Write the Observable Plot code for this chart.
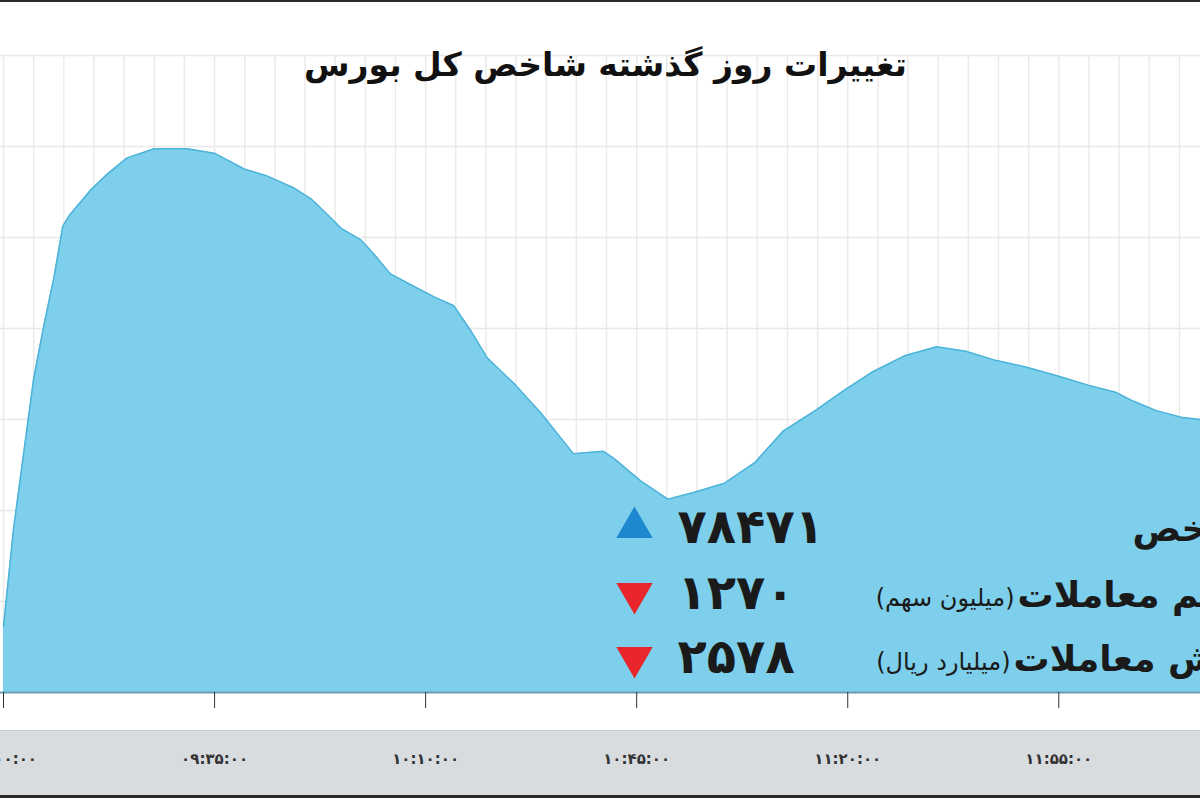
<!DOCTYPE html>
<html><head><meta charset="utf-8">
<script src="https://cdn.jsdelivr.net/npm/d3@7"></script>
<script src="https://cdn.jsdelivr.net/npm/@observablehq/plot@0.6"></script>
<style>
body{margin:0;background:#fff;}
#wrap{position:relative;width:1200px;height:800px;overflow:hidden;background:#fff;}
#topline{position:absolute;left:0;top:0;width:1200px;height:2px;background:#2a2a2a;}
#band{position:absolute;left:0;top:730px;width:1200px;height:65px;background:#d9dcdf;border-top:1px solid #c6c9cd;box-sizing:border-box;}
#bottomline{position:absolute;left:0;top:795px;width:1200px;height:3px;background:#2a2a2a;}
#chart{position:absolute;left:0;top:0;}
</style></head>
<body><div id="wrap"><div id="band"></div><div id="bottomline"></div><div id="chart"></div><div id="topline"></div></div>
<script>
// ---- data ----
const title = "تغییرات روز گذشته شاخص کل بورس";
const times = ["09:00:00","09:01:40","09:03:20","09:05:00","09:06:40","09:08:20","09:09:50","09:11:00","09:14:30","09:17:15",
  "09:20:30","09:25:00","09:30:30","09:32:40","09:35:00","09:37:10","09:40:00","09:43:45","09:48:00","09:51:00",
  "09:53:45","09:56:00","09:59:15","10:01:20","10:04:10","10:07:00","10:11:20","10:14:40","10:17:30","10:20:15",
  "10:24:35","10:29:05","10:34:30","10:39:30","10:41:10","10:45:40","10:50:10","10:54:35","10:59:35","11:04:35",
  "11:09:20","11:14:40","11:19:30","11:24:10","11:29:25","11:34:45","11:39:35","11:44:30","11:49:40","11:55:00",
  "12:00:00","12:04:25","12:07:25","12:11:05","12:15:15","12:18:30"];
const values = [78379,78422,78455,78488,78511,78532,78555,78560,78571,78578,
  78585,78589,78589,78588,78587,78584,78580,78577,78572,78567,
  78560,78554,78549,78543,78534,78530,78524,78520,78509,78497,
  78486,78473,78455,78456,78453,78443,78435,78438,78442,78451,
  78465,78474,78483,78491,78498,78502,78500,78496,78493,78489,
  78485,78482,78478,78474,78471,78470];
const xTickTimes = ["09:00:00","09:35:00","10:10:00","10:45:00","11:20:00","11:55:00"];
const xTickLabels = ["۰۹:۰۰:۰۰","۰۹:۳۵:۰۰","۱۰:۱۰:۰۰","۱۰:۴۵:۰۰","۱۱:۲۰:۰۰","۱۱:۵۵:۰۰"];
const statNames = ["شاخص","حجم معاملات","ارزش معاملات"];
const statUnits = ["","(میلیون سهم)","(میلیارد ریال)"];
const statValues = [78471, 1270, 2578];
const statDirections = ["up","down","down"];

// ---- helpers / layout ----
const parse = s => new Date(`2020-01-01T${s}Z`);
const faDigits = n => String(n).replace(/\d/g, d => "۰۱۲۳۴۵۶۷۸۹"[d]);
const data = times.map((t, i) => ({time: parse(t), value: values[i]}));
const tickDates = xTickTimes.map(parse);
const yMin = 78350, yMax = 78630;
const mTop = 55;
const rowY = [527, 593, 657];
const labelX = [1132, 1017, 1013];
const unitX = [0, 1014, 1010];
const font = "DejaVu Sans";

const stats = statNames.map((name, i) => ({name, unit: statUnits[i], value: statValues[i], dir: statDirections[i]}));

const statMarks = stats.flatMap((s, i) => [
  Plot.dot([s], {frameAnchor: "top-left", dx: 634, dy: rowY[i] - mTop, symbol: "triangle", r: 13.5,
    fill: s.dir === "up" ? "#1d87cf" : "#e8262b", stroke: "none", rotate: s.dir === "up" ? 0 : 180}),
  Plot.text([s], {frameAnchor: "top-left", dx: 677, dy: rowY[i] - mTop, text: d => faDigits(d.value),
    textAnchor: "start", lineAnchor: "middle", fontSize: 48, fontWeight: "bold", fill: "#1a1a1a", fontFamily: font}),
  Plot.text([s], {frameAnchor: "top-left", dx: labelX[i], dy: rowY[i] - mTop + 2, text: "name",
    textAnchor: "start", lineAnchor: "middle", fontSize: 36, fontWeight: "bold", fill: "#1a1a1a", fontFamily: font}),
  ...(s.unit ? [Plot.text([s], {frameAnchor: "top-left", dx: unitX[i], dy: rowY[i] - mTop + 5, text: "unit",
    textAnchor: "end", lineAnchor: "middle", fontSize: 24, fill: "#1a1a1a", fontFamily: font})] : [])
]);

const chart = Plot.plot({
  width: 1200,
  height: 800,
  marginTop: mTop,
  marginBottom: 108,
  marginLeft: 0,
  marginRight: 0,
  style: {background: "transparent", overflow: "hidden", fontFamily: font},
  x: {type: "utc", domain: [parse("08:59:30"), parse("12:18:30")]},
  y: {domain: [yMin, yMax], axis: null},
  marks: [
    Plot.gridX({ticks: d3.utcMinute.every(5), stroke: "#ebebeb", strokeOpacity: 1, strokeWidth: 1.5}),
    Plot.gridY({ticks: d3.range(yMin, yMax + 1, 40), stroke: "#e8e8e8", strokeOpacity: 1, strokeWidth: 1.5}),
    Plot.areaY(data, {x: "time", y1: yMin, y2: "value", fill: "#7dcfec", clip: true}),
    Plot.lineY(data, {x: "time", y: "value", stroke: "#4cb3d9", strokeWidth: 1.5, clip: true}),
    Plot.ruleY([yMin], {stroke: "#6a9fb6", strokeWidth: 2}),
    Plot.axisX({ticks: tickDates, tickSize: 16, tickPadding: 45, tickFormat: (d, i) => xTickLabels[i],
      fontSize: 15, fontWeight: "bold", color: "#333", label: null, fontFamily: font}),
    Plot.text([title], {frameAnchor: "top", dx: 5, dy: 10, text: d => d, lineAnchor: "middle",
      fontSize: 33, fontWeight: "bold", fill: "#111", fontFamily: font}),
    ...statMarks
  ]
});
document.getElementById("chart").appendChild(chart);
</script>
</body></html>
